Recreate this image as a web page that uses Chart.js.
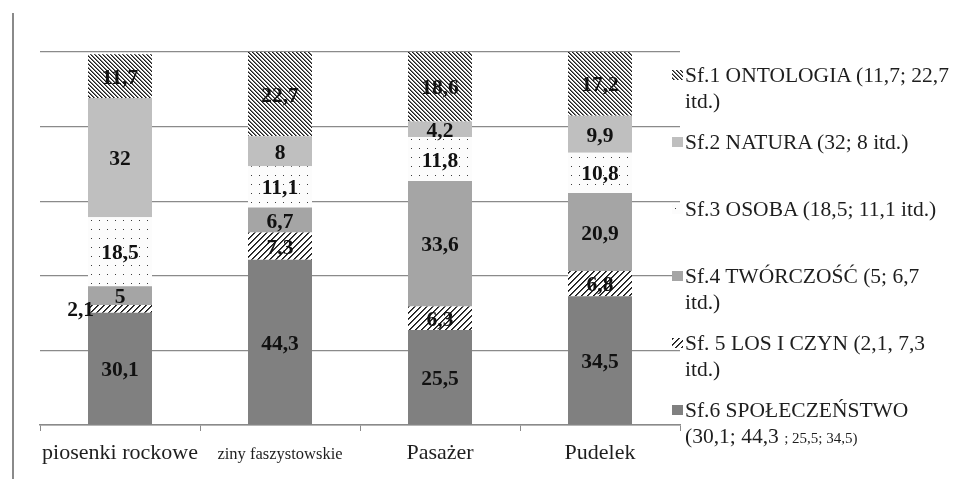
<!DOCTYPE html>
<html>
<head>
<meta charset="utf-8">
<script src="https://cdn.jsdelivr.net/npm/chart.js@4"></script>
<style>
  html, body { margin:0; padding:0; background:#fff; }
  #wrap { position:relative; width:970px; height:479px; overflow:hidden; }
  #c { position:absolute; left:0; top:0; }
  #leftline { position:absolute; left:12px; top:13px; width:2px; height:466px; background:#8a8a8a; }
  .leg { position:absolute; left:685px; font-family:"Liberation Serif","Times New Roman",serif; font-size:21.5px; line-height:26px; color:#1e1e1e; white-space:nowrap; }
  .sw { position:absolute; left:672px; width:11px; height:10px; }
  .small { font-size:15px; }
</style>
</head>
<body>
<div id="wrap">
  <canvas id="c" width="970" height="479"></canvas>
  <div id="leftline"></div>
</div>
<script>
const categories = ['piosenki rockowe', 'ziny faszystowskie', 'Pasażer', 'Pudelek'];
const sf1 = [11.7, 22.7, 18.6, 17.2];
const sf2 = [32, 8, 4.2, 9.9];
const sf3 = [18.5, 11.1, 11.8, 10.8];
const sf4 = [5, 6.7, 33.6, 20.9];
const sf5 = [2.1, 7.3, 6.3, 6.8];
const sf6 = [30.1, 44.3, 25.5, 34.5];
const seriesNames = ['Sf.1 ONTOLOGIA', 'Sf.2 NATURA', 'Sf.3 OSOBA', 'Sf.4 TWÓRCZOŚĆ', 'Sf. 5 LOS I CZYN', 'Sf.6 SPOŁECZEŃSTWO'];
const legendLines = [
  ['Sf.1 ONTOLOGIA (11,7; 22,7', 'itd.)'],
  ['Sf.2 NATURA (32; 8 itd.)'],
  ['Sf.3 OSOBA (18,5; 11,1 itd.)'],
  ['Sf.4 TWÓRCZOŚĆ (5; 6,7', 'itd.)'],
  ['Sf. 5 LOS I CZYN (2,1, 7,3', 'itd.)'],
  ['Sf.6 SPOŁECZEŃSTWO', '(30,1; 44,3 |; 25,5; 34,5)']
];
const yTicks = [0, 20, 40, 60, 80, 100];

// pattern tiles
function tile(w, h, fn) {
  const c = document.createElement('canvas');
  c.width = w; c.height = h;
  const g = c.getContext('2d');
  const img = g.createImageData(w, h);
  for (let y = 0; y < h; y++) for (let x = 0; x < w; x++) {
    const v = fn(x, y);
    const i = (y * w + x) * 4;
    img.data[i] = v; img.data[i+1] = v; img.data[i+2] = v; img.data[i+3] = 255;
  }
  g.putImageData(img, 0, 0);
  return c;
}
const tileSf1 = tile(4, 4, (x, y) => { const m = ((x - y) % 4 + 4) % 4; return m === 0 ? 30 : (m === 1 ? 120 : 255); });
const tileSf3 = tile(8, 9, (x, y) => (x === 3 && y === 4) ? 60 : 252);
const tileSf5 = tile(6, 6, (x, y) => { const m = (x + y) % 6; return m === 0 ? 25 : (m === 1 ? 70 : 255); });
const ctx0 = document.getElementById('c').getContext('2d');
const patSf1 = ctx0.createPattern(tileSf1, 'repeat');
const patSf3 = ctx0.createPattern(tileSf3, 'repeat');
const patSf5 = ctx0.createPattern(tileSf5, 'repeat');
const fills = [patSf1, '#bfbfbf', patSf3, '#a5a5a5', patSf5, '#808080'];
const swatchCss = [
  'url(' + tileSf1.toDataURL() + ')', '#bfbfbf', 'url(' + tileSf3.toDataURL() + ')',
  '#a5a5a5', 'url(' + tileSf5.toDataURL() + ')', '#808080'
];

const seriesData = [sf1, sf2, sf3, sf4, sf5, sf6];
// bottom of stack first
const datasets = [];
for (let k = seriesData.length - 1; k >= 0; k--) {
  datasets.push({
    label: seriesNames[k],
    data: seriesData[k],
    backgroundColor: fills[k],
    borderWidth: 0,
    categoryPercentage: 1.0,
    barPercentage: 0.4
  });
}

const fmt = v => String(v).replace('.', ',');

const labelPlugin = {
  id: 'segLabels',
  afterDatasetsDraw(chart) {
    const ctx = chart.ctx;
    ctx.save();
    ctx.font = 'bold 21.5px "Liberation Serif", "Times New Roman", serif';
    ctx.fillStyle = '#111';
    ctx.textBaseline = 'middle';
    chart.data.datasets.forEach((ds, i) => {
      const meta = chart.getDatasetMeta(i);
      meta.data.forEach((bar, j) => {
        const p = bar.getProps(['x', 'y', 'base', 'width'], true);
        const h = Math.abs(p.base - p.y);
        const cy = (p.y + p.base) / 2 + 2;
        const t = fmt(ds.data[j]);
        if (h < 12) {
          ctx.textAlign = 'right';
          ctx.fillText(t, p.x - p.width / 2 + 6, cy);
        } else {
          ctx.textAlign = 'center';
          ctx.fillText(t, p.x, cy);
        }
      });
    });
    ctx.restore();
  }
};

new Chart(ctx0, {
  type: 'bar',
  data: { labels: categories, datasets },
  options: {
    responsive: false,
    animation: false,
    devicePixelRatio: 1,
    layout: { padding: { left: 40, right: 290, top: 52, bottom: 0 } },
    plugins: { legend: { display: false }, tooltip: { enabled: false } },
    scales: {
      x: {
        stacked: true,
        afterFit: s => { s.height = 54; },
        grid: { display: true, drawOnChartArea: false, drawTicks: true, tickLength: 6, color: '#8a8a8a', offset: true },
        border: { display: true, color: '#8a8a8a', width: 1.5 },
        ticks: {
          padding: 9,
          color: '#1e1e1e',
          maxRotation: 0,
          autoSkip: false,
          font: c => (c.index === 1
            ? { family: '"Liberation Serif", "Times New Roman", serif', size: 16.5, lineHeight: 1.8 }
            : { family: '"Liberation Serif", "Times New Roman", serif', size: 22, lineHeight: 1.2 })
        }
      },
      y: {
        stacked: true,
        min: yTicks[0],
        max: yTicks[yTicks.length - 1],
        afterFit: s => { s.width = 0; },
        afterBuildTicks: s => { s.ticks = yTicks.map(v => ({ value: v })); },
        ticks: { display: false },
        grid: { color: '#8a8a8a', lineWidth: 1.2, drawTicks: false },
        border: { display: false }
      }
    }
  },
  plugins: [labelPlugin]
});

// HTML legend
const wrap = document.getElementById('wrap');
const legendTop = 62;
const legendStep = 67;
legendLines.forEach((lines, k) => {
  const top = legendTop + k * legendStep;
  const d = document.createElement('div');
  d.className = 'leg';
  d.style.top = top + 'px';
  d.innerHTML = lines.map(l => {
    const parts = l.split('|');
    const esc = s => s.replace(/&/g, '&amp;').replace(/</g, '&lt;');
    return parts.length > 1 ? esc(parts[0]) + '<span class="small">' + esc(parts[1]) + '</span>' : esc(l);
  }).join('<br>');
  wrap.appendChild(d);
  const sw = document.createElement('div');
  sw.className = 'sw';
  sw.style.top = (top + 8) + 'px';
  sw.style.background = swatchCss[k];
  wrap.appendChild(sw);
});
</script>
</body>
</html>
